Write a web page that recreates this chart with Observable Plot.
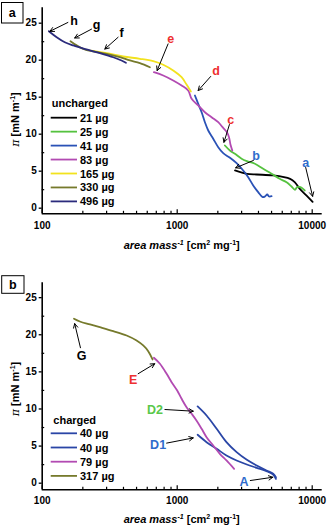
<!DOCTYPE html>
<html>
<head>
<meta charset="utf-8">
<script src="https://cdn.jsdelivr.net/npm/d3@7"></script>
<script src="https://cdn.jsdelivr.net/npm/@observablehq/plot@0.6"></script>
<style>
  body { margin: 0; background: #fff; }
  #chart { width: 327px; }
  #chart svg { display: block; }
</style>
</head>
<body>
<div id="chart"></div>
<script>
// ---------- ticks ----------
const xTicksMajor = [100, 1000, 10000];
const xTicksMinor = [200, 300, 400, 500, 600, 700, 800, 900, 2000, 3000, 4000, 5000, 6000, 7000, 8000, 9000];
const yTicksMajor = [0, 5, 10, 15, 20, 25];
const yTicksMinor = [2.5, 7.5, 12.5, 17.5, 22.5];

// ---------- panel a (uncharged) ----------
const namesA = ["21 µg", "25 µg", "41 µg", "83 µg", "165 µg", "330 µg", "496 µg"];
const colorsA = ["#000000", "#55c23f", "#2a52b6", "#b24ab2", "#f2e21e", "#767a2c", "#2b2b7c"];

const a21x = [2680, 3280, 3880, 5140, 6860, 7450, 8100, 9090, 10070];
const a21y = [5.1, 4.65, 4.55, 4.42, 3.97, 3.5, 2.6, 1.7, 0.85];

const a25x = [2256, 2457, 2677, 3000, 3280, 3763, 4335, 5003, 5740, 6460, 7030, 7450, 7740, 8200, 8800];
const a25y = [8.47, 7.8, 7.35, 6.68, 6.35, 6.0, 5.32, 4.65, 3.97, 3.5, 2.93, 2.49, 2.84, 2.84, 2.39];

const a41x = [1353, 1431, 1517, 1604, 1698, 1848, 2014, 2192, 2460, 2755, 3083, 3358, 3657, 3981, 4296, 4466, 4642, 4800, 5003];
const a41y = [15.23, 14.1, 12.97, 11.62, 10.5, 9.38, 8.24, 7.43, 6.81, 6.08, 5.09, 4.19, 3.07, 2.16, 1.49, 1.58, 1.85, 1.58, 1.62];

const a83x = [672, 788, 934, 1078, 1206, 1279, 1431, 1604, 1798, 2014, 2168, 2330, 2420, 2480, 2560];
const a83y = [18.38, 17.93, 17.26, 16.58, 15.9, 14.78, 13.88, 12.97, 12.3, 11.62, 10.95, 10.3, 9.6, 8.6, 7.8];

const a165x = [230, 300, 398, 529, 664, 788, 934, 1078, 1173, 1263];
const a165y = [21.3, 20.95, 20.5, 20.19, 19.86, 19.38, 18.6, 17.7, 16.7, 15.77];

const a330x = [162, 180, 201, 239, 300, 376, 447, 529, 628];
const a330y = [22.57, 22.0, 21.54, 21.18, 20.86, 20.4, 19.96, 19.6, 19.05];

const a496x = [112, 128, 147, 170, 213, 268, 336, 387, 417];
const a496y = [23.92, 23.11, 22.43, 21.99, 21.45, 20.95, 20.4, 19.96, 19.65];

const arrowsA_x1 = [155, 232, 365, 856, 1770, 2437, 3670, 8950];
const arrowsA_y1 = [25.1, 24.2, 23.1, 22.2, 17.8, 11.3, 6.45, 5.5];
const arrowsA_x2 = [114, 174, 291, 710, 1430, 2220, 2710, 10070];
const arrowsA_y2 = [23.9, 23.0, 21.5, 18.6, 15.9, 8.9, 5.45, 1.6];

const labelsA_text = ["h", "g", "f", "e", "d", "c", "b", "a"];
const labelsA_x = [172, 253, 388, 895, 1937, 2496, 3840, 8950];
const labelsA_y = [25.3, 24.7, 23.65, 22.9, 18.5, 11.95, 7.1, 6.1];
const labelsA_color = ["#000000", "#000000", "#000000", "#ee3030", "#ee3030", "#ee3030", "#2f6ccc", "#2f6ccc"];

// ---------- panel b (charged) ----------
const namesB = ["40 µg", "40 µg", "79 µg", "317 µg"];
const colorsB = ["#2a46a6", "#2a46a6", "#b24ab2", "#767a2c"];

const b40ax = [1417, 1650, 1960, 2317, 2755, 3280, 3880, 4590, 5140, 5385];
const b40ay = [6.52, 5.53, 4.64, 3.73, 3.06, 2.52, 2.07, 1.62, 1.17, 0.59];

const b40bx = [1417, 1650, 1960, 2317, 2755, 3280, 3880, 4590, 5140, 5385];
const b40by = [10.34, 9.12, 7.33, 5.53, 4.18, 3.15, 2.39, 1.71, 1.27, 0.81];

const b79x = [672, 745, 835, 909, 1000, 1078, 1173, 1279, 1389, 1517, 1650, 1848, 2070, 2317, 2640];
const b79y = [16.9, 16.09, 14.74, 13.61, 12.49, 11.37, 10.24, 9.35, 8.45, 7.33, 6.2, 5.08, 3.96, 3.06, 1.94];

const b317x = [172, 190, 226, 267, 336, 422, 500, 560, 610, 657];
const b317y = [22.16, 21.79, 21.39, 21.02, 20.49, 19.9, 19.23, 18.56, 17.79, 16.67];

const arrowsB_x1 = [192, 514, 811, 835, 3480];
const arrowsB_y1 = [18.25, 14.75, 9.93, 5.4, 0.36];
const arrowsB_x2 = [174, 682, 1315, 1315, 5110];
const arrowsB_y2 = [21.5, 16.1, 9.7, 6.1, 0.8];

const labelsB_text = ["G", "E", "D2", "D1", "A"];
const labelsB_x = [196, 472, 685, 722, 3120];
const labelsB_y = [17.2, 13.9, 9.8, 5.2, 0.13];
const labelsB_color = ["#000000", "#ee3030", "#5ac84a", "#2f6ccc", "#2f6ccc"];

// ---------- build ----------
const FONT = "'Liberation Sans', Arial, Helvetica, sans-serif";

function rows(list) {
  const out = [];
  list.forEach(([id, xs, ys]) => xs.forEach((x, i) => out.push({id, x, y: ys[i]})));
  return out;
}
function zipArrows(x1, y1, x2, y2) { return x1.map((d, i) => ({x1: d, y1: y1[i], x2: x2[i], y2: y2[i]})); }
function zipLabels(t, x, y, c) { return t.map((d, i) => ({t: d, x: x[i], y: y[i], c: c[i]})); }

function panel(cfg) {
  const W = 327, mL = 41.7, mR = 5.3;
  const frameH = cfg.height - cfg.mt - cfg.mb;
  const frameW = W - mL - mR;
  const svg = Plot.plot({
    width: W, height: cfg.height,
    marginLeft: mL, marginRight: mR, marginTop: cfg.mt, marginBottom: cfg.mb,
    style: {fontFamily: FONT, background: "#fff", color: "#000", overflow: "visible"},
    x: {type: "log", domain: [100, 11860]},
    y: {domain: cfg.ydom},
    color: {domain: cfg.ids, range: cfg.colors},
    marks: [
      Plot.axisY({ticks: yTicksMajor, tickSize: 3, tickPadding: 2.5, tickFormat: d => String(d),
                  fontSize: 10, fontWeight: "bold", strokeWidth: 1.3, label: null}),
      Plot.tickY(yTicksMinor, {y: d => d, insetRight: frameW - 2.5, strokeWidth: 1.2}),
      Plot.axisX({ticks: xTicksMajor, tickSize: 0, tickPadding: cfg.xpad, tickFormat: d => String(d),
                  fontSize: 10, fontWeight: "bold", label: null}),
      Plot.tickX(xTicksMajor, {x: d => d, insetTop: frameH - 4, strokeWidth: 1.2}),
      Plot.tickX(xTicksMinor, {x: d => d, insetTop: frameH - 2.5, strokeWidth: 1.2}),
      Plot.ruleX([100], {strokeWidth: 1.6}),
      Plot.ruleY([cfg.ydom[0]], {strokeWidth: 1.6}),
      Plot.line(cfg.data, {x: "x", y: "y", z: "id", stroke: "id", strokeWidth: 1.8, curve: "catmull-rom"}),
      Plot.arrow(cfg.arrows, {x1: "x1", y1: "y1", x2: "x2", y2: "y2", stroke: "#000", strokeWidth: 1, headLength: 7, headAngle: 55}),
      ...cfg.labels.map(l => Plot.text([l], {x: "x", y: "y", text: "t", fill: l.c, fontSize: 12.5, fontWeight: "bold", textAnchor: "middle"}))
    ]
  });
  const s = d3.select(svg);
  // panel box
  s.append("rect").attr("x", cfg.box[0]).attr("y", cfg.box[1]).attr("width", cfg.box[2]).attr("height", cfg.box[3])
    .attr("fill", "#fff").attr("stroke", "#000").attr("stroke-width", 1);
  s.append("text").attr("x", cfg.box[0] + cfg.box[2] / 2).attr("y", cfg.box[1] + cfg.box[3] / 2 + 4.5)
    .attr("text-anchor", "middle").attr("font-size", 12.5).attr("font-weight", "bold").attr("font-family", FONT).text(cfg.letter);
  // x title
  const xt = s.append("text").attr("x", 181.7).attr("y", cfg.xTitleY).attr("text-anchor", "middle")
    .attr("font-size", 11).attr("font-weight", "bold").attr("font-family", FONT);
  xt.append("tspan").attr("font-style", "italic").text("area mass");
  xt.append("tspan").attr("font-size", 7).attr("dy", -4).attr("font-style", "italic").text("-1");
  xt.append("tspan").attr("dy", 4).text(" [cm");
  xt.append("tspan").attr("font-size", 7).attr("dy", -4).text("2");
  xt.append("tspan").attr("dy", 4).text(" mg");
  xt.append("tspan").attr("font-size", 7).attr("dy", -4).text("-1");
  xt.append("tspan").attr("dy", 4).text("]");
  // y title
  const yt = s.append("text").attr("transform", `translate(${cfg.yTitle[0]},${cfg.yTitle[1]}) rotate(-90)`)
    .attr("text-anchor", "middle").attr("font-size", 11).attr("font-weight", "bold").attr("font-family", FONT);
  yt.append("tspan").attr("font-style", "italic").attr("font-family", "'DejaVu Serif', serif").attr("font-weight", "normal").text("π");
  yt.append("tspan").text(" [mN m");
  yt.append("tspan").attr("font-size", 7).attr("dy", -4).text("-1");
  yt.append("tspan").attr("dy", 4).text("]");
  // legend
  const lg = s.append("g").attr("font-family", FONT).attr("font-weight", "bold").attr("font-size", 11)
    .attr("text-anchor", "start");
  lg.append("text").attr("x", cfg.legend.titleX).attr("y", cfg.legend.titleY + 4).attr("text-anchor", "start").text(cfg.legend.title);
  cfg.legend.names.forEach((n, i) => {
    const y = cfg.legend.y0 + i * cfg.legend.dy;
    lg.append("line").attr("x1", 50.7).attr("x2", 77).attr("y1", y).attr("y2", y)
      .attr("stroke", cfg.colors[i]).attr("stroke-width", 1.8);
    lg.append("text").attr("x", 80).attr("y", y + 4).attr("text-anchor", "start").text(n);
  });
  return svg;
}

const idsA = namesA.map((n, i) => "a" + i);
const panelA = panel({
  height: 260, mt: 7.3, mb: 46.7, ydom: [-0.76, 27.08], xpad: 8,
  ids: idsA, colors: colorsA,
  data: rows([[idsA[0], a21x, a21y], [idsA[1], a25x, a25y], [idsA[2], a41x, a41y], [idsA[3], a83x, a83y],
              [idsA[4], a165x, a165y], [idsA[5], a330x, a330y], [idsA[6], a496x, a496y]]),
  arrows: zipArrows(arrowsA_x1, arrowsA_y1, arrowsA_x2, arrowsA_y2),
  labels: zipLabels(labelsA_text, labelsA_x, labelsA_y, labelsA_color),
  box: [1.5, 2.5, 21.5, 20.5], letter: "a",
  xTitleY: 248.5, yTitle: [18.5, 119.5],
  legend: {title: "uncharged", titleX: 51.7, titleY: 103.3, names: namesA, y0: 117.7, dy: 13.95}
});

const idsB = namesB.map((n, i) => "b" + i);
const panelB = panel({
  height: 266, mt: 22.3, mb: 36.7, ydom: [-0.89, 27.0], xpad: 7,
  ids: idsB, colors: colorsB,
  data: rows([[idsB[0], b40ax, b40ay], [idsB[1], b40bx, b40by], [idsB[2], b79x, b79y], [idsB[3], b317x, b317y]]),
  arrows: zipArrows(arrowsB_x1, arrowsB_y1, arrowsB_x2, arrowsB_y2),
  labels: zipLabels(labelsB_text, labelsB_x, labelsB_y, labelsB_color),
  box: [1.7, 15.7, 22.3, 17.6], letter: "b",
  xTitleY: 263, yTitle: [18.5, 129],
  legend: {title: "charged", titleX: 53.3, titleY: 160, names: namesB, y0: 173.3, dy: 14.2}
});

document.getElementById("chart").append(panelA, panelB);
</script>
</body>
</html>
